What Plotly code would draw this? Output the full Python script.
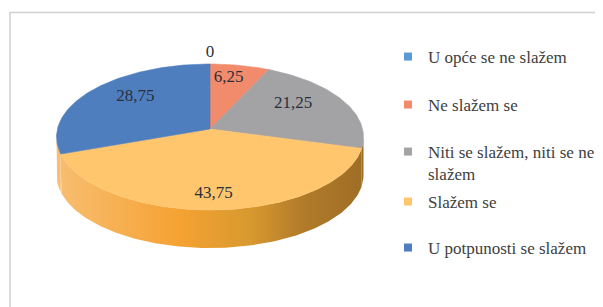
import math
import plotly.graph_objects as go

# ---------------- data ----------------
categories = ["U opće se ne slažem", "Ne slažem se",
              "Niti se slažem, niti se ne slažem", "Slažem se",
              "U potpunosti se slažem"]
values = [0, 6.25, 21.25, 43.75, 28.75]
value_labels = ["0", "6,25", "21,25", "43,75", "28,75"]
legend_names = ["U opće se ne slažem", "Ne slažem se",
                "Niti se slažem, niti se ne<br>slažem", "Slažem se",
                "U potpunosti se slažem"]

# ---------------- styles ----------------
top_colors = ["#5B9BD5", "#F28B6C", "#A3A3A5", "#FFC66E", "#4F7EBF"]
side_scale = [[0.0, "#F8BE72"], [0.4, "#F5A232"], [0.63, "#D8992F"],
              [0.8, "#B27B2A"], [1.0, "#9E6D25"]]
FONT = "Liberation Serif"

# pie geometry (pixel-like axis units)
CX, CY = 210, 137      # ellipse centre
APEX_Y = 129           # apex of slices (perspective)
RA, RB = 153.5, 73     # ellipse radii
DEPTH = 38             # thickness of the 3D side

W, H = 603, 307
OFF = 8                # default page body margin compensated in the axes


def ell(theta_deg, dy=0.0):
    t = math.radians(theta_deg)
    return CX + RA * math.sin(t), CY - RB * math.cos(t) + dy


def arc(t0, t1, dy=0.0):
    n = max(2, int(abs(t1 - t0)) + 1)
    return [ell(t0 + (t1 - t0) * k / (n - 1), dy) for k in range(n)]


total = sum(values)
bounds = []
cum = 0.0
for v in values:
    t0 = cum / total * 360.0
    cum += v
    t1 = cum / total * 360.0
    bounds.append((t0, t1))

fig = go.Figure()

# ---- side walls (front half: 90..270 deg) ----
for i, (t0, t1) in enumerate(bounds):
    if values[i] == 0:
        continue
    s0, s1 = max(t0, 90.0), min(t1, 270.0)
    if s1 <= s0:
        continue
    top = arc(s0, s1)
    bot = arc(s1, s0, DEPTH)
    pts = top + bot + [top[0]]
    fig.add_trace(go.Scatter(
        x=[p[0] for p in pts], y=[p[1] for p in pts],
        mode="lines", fill="toself",
        fillgradient=dict(type="horizontal", colorscale=side_scale,
                          start=CX - RA, stop=CX + RA),
        line=dict(width=0), showlegend=False, hoverinfo="skip"))

# ---- top faces ----
for i, (t0, t1) in enumerate(bounds):
    if values[i] == 0:
        continue
    pts = [(CX, APEX_Y)] + arc(t0, t1) + [(CX, APEX_Y)]
    fig.add_trace(go.Scatter(x=[p[0] for p in pts], y=[p[1] for p in pts],
                             mode="lines", fill="toself",
                             fillcolor=top_colors[i],
                             line=dict(width=0.6, color=top_colors[i]),
                             showlegend=False, hoverinfo="skip"))

# ---- data labels (placed from the apex, perspective-aware) ----
back_r = APEX_Y - (CY - RB)
front_r = (CY + RB) - APEX_Y
lx, ly = [], []
for i, (t0, t1) in enumerate(bounds):
    mid = math.radians((t0 + t1) / 2)
    c = math.cos(mid)
    if values[i] == 0:
        lx.append(CX + RA * math.sin(mid))
        ly.append(CY - 1.15 * RB * c)
        continue
    r_loc = back_r if c > 0 else front_r
    lx.append(CX + 0.62 * RA * math.sin(mid))
    ly.append(APEX_Y - 0.8 * r_loc * c)
fig.add_trace(go.Scatter(x=lx, y=ly, mode="text", text=value_labels,
                         textfont=dict(family=FONT, size=17, color="#2B2F3A"),
                         showlegend=False, hoverinfo="skip"))

# ---- legend entries (one legend per item for Excel-like spacing) ----
legend_centres = [57, 105, 163, 202, 248]
legend_keys = ["legend", "legend2", "legend3", "legend4", "legend5"]
for i, name in enumerate(legend_names):
    fig.add_trace(go.Scatter(x=[None], y=[None], mode="markers", name=name,
                             marker=dict(symbol="square", size=8,
                                         color=top_colors[i]),
                             legend=legend_keys[i]))

legend_common = dict(x=(388 - OFF) / W, xanchor="left", yanchor="middle",
                     bgcolor="rgba(0,0,0,0)",
                     font=dict(family=FONT, size=17, color="#404040"))
layout_legends = {}
for i, key in enumerate(legend_keys):
    d = dict(legend_common, y=1 - (legend_centres[i] - OFF) / H)
    if i == 2:
        d["valign"] = "top"
    layout_legends[key] = d

fig.update_layout(
    width=W, height=H,
    margin=dict(l=0, r=0, t=0, b=0),
    paper_bgcolor="white", plot_bgcolor="white",
    xaxis=dict(range=[OFF, W + OFF], visible=False),
    yaxis=dict(range=[H + OFF, OFF], visible=False),
    shapes=[dict(type="rect", xref="x", yref="y", x0=10, y0=12.5,
                 x1=W + 20, y1=H + 20,
                 line=dict(color="#D0D0D0", width=1.5))],
    **layout_legends,
)

fig.write_html("out.html")
